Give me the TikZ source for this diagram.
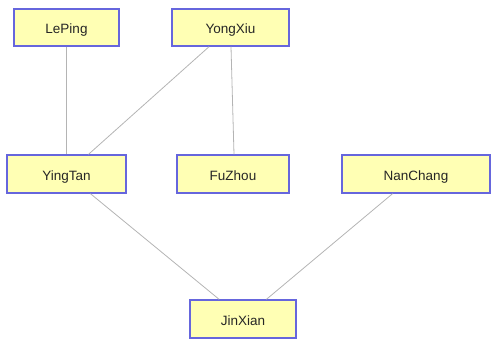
\documentclass[tikz,border=0pt]{standalone}
\usepackage{fontspec}
\setmainfont{Liberation Sans}
\definecolor{boxfill}{HTML}{FFFFB4}
\definecolor{boxline}{HTML}{6666DD}
\definecolor{edgecol}{HTML}{B4B4B4}
\begin{document}
\begin{tikzpicture}[x=1pt,y=-1pt,
  city/.style={draw=boxline,fill=boxfill,line width=1.3pt,inner sep=0pt,
    font=\fontsize{13.5}{15}\selectfont,text=black!85,text height=13pt,text depth=0pt},
  link/.style={draw=edgecol,line width=0.8pt}]
\path[use as bounding box] (0,0) rectangle (491,340);
\node[city,minimum width=105,minimum height=37] (leping) at (66.5,27.5) {LePing};
\node[city,minimum width=117,minimum height=37] (yongxiu) at (230.5,27.5) {YongXiu};
\node[city,minimum width=119,minimum height=38] (yingtan) at (66.5,174) {YingTan};
\node[city,minimum width=112,minimum height=38] (fuzhou) at (233,174) {FuZhou};
\node[city,minimum width=148,minimum height=38] (nanchang) at (416,174) {NanChang};
\node[city,minimum width=106,minimum height=38] (jinxian) at (243,319) {JinXian};
\draw[link] (leping) -- (yingtan);
\draw[link] (yongxiu) -- (yingtan);
\draw[link] (yongxiu.south -| 231,0) -- (fuzhou.north -| 234,0);
\draw[link] (yingtan) -- (jinxian);
\draw[link] (nanchang) -- (jinxian);
\end{tikzpicture}
\end{document}
